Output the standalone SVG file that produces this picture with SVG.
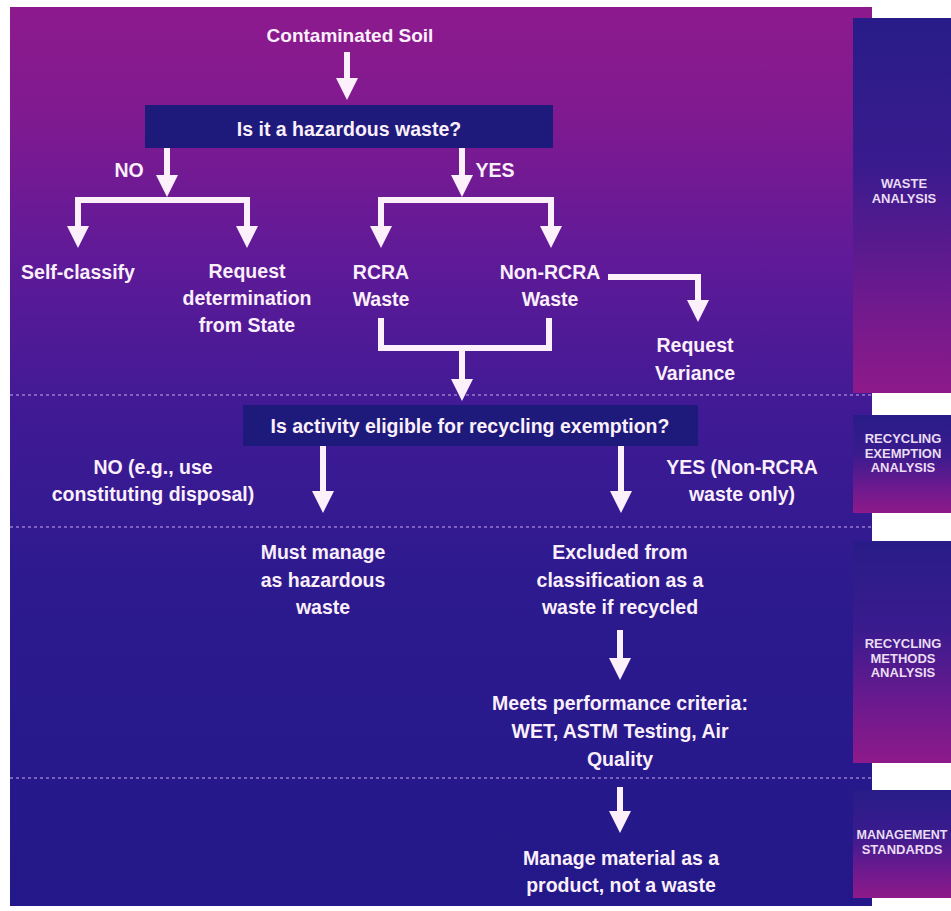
<svg xmlns="http://www.w3.org/2000/svg" width="951" height="911" viewBox="0 0 951 911">
<defs>
<linearGradient id="bgGrad" gradientUnits="userSpaceOnUse" x1="0" y1="7" x2="0" y2="906">
<stop offset="0" stop-color="#8d1a8d"/>
<stop offset="0.12" stop-color="#801a90"/>
<stop offset="0.28" stop-color="#5f1a98"/>
<stop offset="0.45" stop-color="#401a95"/>
<stop offset="0.65" stop-color="#2c1a8e"/>
<stop offset="1" stop-color="#231889"/>
</linearGradient>
<linearGradient id="panelGrad" x1="0" y1="0" x2="0" y2="1">
<stop offset="0" stop-color="#281c88"/>
<stop offset="0.4" stop-color="#3a1b8e"/>
<stop offset="0.75" stop-color="#6e1a8e"/>
<stop offset="1" stop-color="#8e1a8a"/>
</linearGradient>
<marker id="head" viewBox="0 0 22 22" markerWidth="22" markerHeight="22" markerUnits="userSpaceOnUse" refX="0" refY="11" orient="auto-start-reverse">
<path d="M0,0 L22,11 L0,22 z" fill="#fcf0fb"/>
</marker>
<style>
text{font-family:"Liberation Sans",Arial,sans-serif;font-weight:bold;fill:#fbeffa;text-anchor:middle;font-size:19.5px}
.panel text{font-size:13px;fill:#eadcf2}
.box{fill:#1d1a7b}
.conn path{fill:none;stroke:#fcf0fb;stroke-width:6;stroke-linejoin:miter}
.arrow{marker-end:url(#head)}
.both{marker-start:url(#head);marker-end:url(#head)}
.dash{stroke:#a98ad8;stroke-width:1.5;stroke-dasharray:3 3;opacity:0.85}
</style>
</defs>
<rect x="0" y="0" width="951" height="911" fill="#ffffff"/>
<rect x="10" y="7" width="862" height="899" fill="url(#bgGrad)"/>
<g id="dividers">
<line class="dash" x1="10" y1="395" x2="872" y2="395"/>
<line class="dash" x1="10" y1="527" x2="872" y2="527"/>
<line class="dash" x1="10" y1="778" x2="872" y2="778"/>
</g>
<g class="panel" id="panel-waste-analysis">
<rect x="853" y="18" width="98" height="375" fill="url(#panelGrad)"/>
<text x="904" y="188">WASTE</text>
<text x="904" y="202.5">ANALYSIS</text>
</g>
<g class="panel" id="panel-recycling-exemption">
<rect x="853" y="415" width="98" height="98" fill="url(#panelGrad)"/>
<text x="903" y="443">RECYCLING</text>
<text x="903" y="457.5">EXEMPTION</text>
<text x="903" y="472">ANALYSIS</text>
</g>
<g class="panel" id="panel-recycling-methods">
<rect x="853" y="541" width="98" height="222" fill="url(#panelGrad)"/>
<text x="903" y="648">RECYCLING</text>
<text x="903" y="662.5">METHODS</text>
<text x="903" y="677">ANALYSIS</text>
</g>
<g class="panel" id="panel-management">
<rect x="853" y="790" width="98" height="108" fill="url(#panelGrad)"/>
<text x="902" y="839" style="font-size:12.5px">MANAGEMENT</text>
<text x="902" y="853.5">STANDARDS</text>
</g>
<g class="conn" id="connectors">
<path class="arrow" d="M347,52 V78"/>
<path class="arrow" d="M167,148 V175"/>
<path class="both" d="M78,226 V200 H247 V226"/>
<path class="arrow" d="M462,148 V175"/>
<path class="both" d="M381,226 V200 H551 V226"/>
<path class="arrow" d="M608,277 H698 V300"/>
<path d="M381,318 V348 H549 V318"/>
<path class="arrow" d="M462,348 V379"/>
<path class="arrow" d="M323,446 V491"/>
<path class="arrow" d="M621,446 V491"/>
<path class="arrow" d="M620,630 V658"/>
<path class="arrow" d="M620,787 V811"/>
</g>
<g id="n-soil"><text x="350" y="42" style="font-size:19px">Contaminated Soil</text></g>
<g id="n-hazardous">
<rect class="box" x="145" y="105" width="408" height="43"/>
<text x="349" y="136">Is it a hazardous waste?</text>
</g>
<g id="l-no"><text x="129" y="177">NO</text></g>
<g id="l-yes"><text x="495" y="177">YES</text></g>
<g id="n-self"><text x="78" y="279">Self-classify</text></g>
<g id="n-request-state">
<text x="247" y="278">Request</text>
<text x="247" y="305">determination</text>
<text x="247" y="332">from State</text>
</g>
<g id="n-rcra">
<text x="381" y="279">RCRA</text>
<text x="381" y="306">Waste</text>
</g>
<g id="n-nonrcra">
<text x="550" y="279">Non-RCRA</text>
<text x="550" y="306">Waste</text>
</g>
<g id="n-variance">
<text x="695" y="352">Request</text>
<text x="695" y="380">Variance</text>
</g>
<g id="n-exemption">
<rect class="box" x="243" y="405" width="455" height="41"/>
<text x="470" y="433">Is activity eligible for recycling exemption?</text>
</g>
<g id="l-no2">
<text x="153" y="474">NO (e.g., use</text>
<text x="153" y="501">constituting disposal)</text>
</g>
<g id="l-yes2">
<text x="742" y="474">YES (Non-RCRA</text>
<text x="742" y="501">waste only)</text>
</g>
<g id="n-must-manage">
<text x="323" y="559">Must manage</text>
<text x="323" y="587">as hazardous</text>
<text x="323" y="614">waste</text>
</g>
<g id="n-excluded">
<text x="620" y="559">Excluded from</text>
<text x="620" y="587">classification as a</text>
<text x="620" y="614">waste if recycled</text>
</g>
<g id="n-criteria">
<text x="620" y="710">Meets performance criteria:</text>
<text x="620" y="738">WET, ASTM Testing, Air</text>
<text x="620" y="766">Quality</text>
</g>
<g id="n-product">
<text x="621" y="865">Manage material as a</text>
<text x="621" y="892">product, not a waste</text>
</g>
</svg>
